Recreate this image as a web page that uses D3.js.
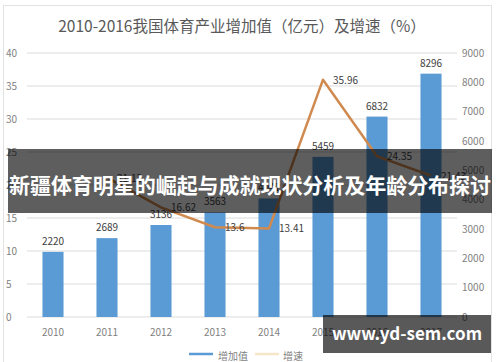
<!DOCTYPE html>
<html>
<head>
<meta charset="utf-8">
<script src="https://cdn.jsdelivr.net/npm/d3@7"></script>
<style>
  body { margin: 0; background: #fff; }
  text { font-family: "Noto Sans CJK SC", "Noto Sans", sans-serif; }
</style>
</head>
<body>
<div id="chart"></div>
<script>
var years = ['2010', '2011', '2012', '2013', '2014', '2015', '2016', '2017']
var addedValue = [2220, 2689, 3136, 3563, 4041, 5459, 6832, 8296]
var growth = [null, 21.13, 16.62, 13.6, 13.41, 35.96, 24.35, 21.43]
var leftTicks = [0, 5, 10, 15, 20, 25, 30, 35, 40]
var rightTicks = [0, 1000, 2000, 3000, 4000, 5000, 6000, 7000, 8000, 9000]
var legendNames = ['增加值', '增速']

var svg = d3.select('#chart')
  .append('svg')
  .attr('width', 500)
  .attr('height', 362)

// chart frame
svg.append('rect')
  .attr('x', 3.5).attr('y', 5.5)
  .attr('width', 488).attr('height', 370)
  .attr('fill', '#fff')
  .attr('stroke', '#e3e3e3')

svg.append('text')
  .attr('x', 242).attr('y', 32)
  .attr('text-anchor', 'middle')
  .attr('font-size', 15.5)
  .attr('fill', '#595959')
  .text('2010-2016我国体育产业增加值（亿元）及增速（%）')

var x = d3.scaleBand().domain(years).range([26, 458]).paddingInner(0.61).paddingOuter(0.305)
var yL = d3.scaleLinear().domain([0, 40]).range([317, 53])
var yR = d3.scaleLinear().domain([0, 9000]).range([317, 53])
var cx = function(d) { return x(d) + x.bandwidth() / 2 }

// gridlines
svg.append('g')
  .selectAll('line')
  .data(leftTicks)
  .enter().append('line')
  .attr('x1', 27).attr('x2', 457)
  .attr('y1', function(d) { return yL(d) })
  .attr('y2', function(d) { return yL(d) })
  .attr('stroke', '#dcdcdc')
  .attr('stroke-width', 1.2)

svg.append('g')
  .selectAll('text')
  .data(leftTicks)
  .enter().append('text')
  .attr('x', 6)
  .attr('y', function(d) { return yL(d) + 3.5 })
  .attr('font-size', 10)
  .attr('fill', '#7f7f7f')
  .text(function(d) { return d })

svg.append('g')
  .selectAll('text')
  .data(rightTicks)
  .enter().append('text')
  .attr('x', 462)
  .attr('y', function(d) { return yR(d) + 3.5 })
  .attr('font-size', 10)
  .attr('fill', '#7f7f7f')
  .text(function(d) { return d })

// bars
svg.append('g')
  .selectAll('rect')
  .data(addedValue)
  .enter().append('rect')
  .attr('x', function(d, i) { return x(years[i]) })
  .attr('y', function(d) { return yR(d) })
  .attr('width', x.bandwidth())
  .attr('height', function(d) { return yR(0) - yR(d) })
  .attr('fill', '#5b9bd5')

svg.append('g')
  .selectAll('text')
  .data(addedValue)
  .enter().append('text')
  .attr('x', function(d, i) { return cx(years[i]) })
  .attr('y', function(d) { return yR(d) - 7 })
  .attr('text-anchor', 'middle')
  .attr('font-size', 10)
  .attr('fill', '#404040')
  .text(function(d) { return d })

// growth line
var line = d3.line()
  .defined(function(d) { return d != null })
  .x(function(d, i) { return cx(years[i]) })
  .y(function(d) { return yL(d) })

svg.append('path')
  .datum(growth)
  .attr('d', line)
  .attr('fill', 'none')
  .attr('stroke', '#d08a4f')
  .attr('stroke-width', 2.5)
  .attr('stroke-linejoin', 'round')

svg.append('g')
  .selectAll('text')
  .data(growth)
  .enter().filter(function(d) { return d != null }).append('text')
  .attr('x', function(d) { return cx(years[growth.indexOf(d)]) + 10 })
  .attr('y', function(d) { return yL(d) + 4 })
  .attr('font-size', 10)
  .attr('fill', '#404040')
  .text(function(d) { return d })

// x labels
svg.append('g')
  .selectAll('text')
  .data(years)
  .enter().append('text')
  .attr('x', function(d) { return cx(d) })
  .attr('y', 336)
  .attr('text-anchor', 'middle')
  .attr('font-size', 10)
  .attr('fill', '#7f7f7f')
  .text(function(d) { return d })

// legend
var lg = svg.append('g')
lg.append('line').attr('x1', 189).attr('x2', 213).attr('y1', 354).attr('y2', 354)
  .attr('stroke', '#5b9bd5').attr('stroke-width', 2.5)
lg.append('text').attr('x', 218).attr('y', 360).attr('font-size', 10).attr('fill', '#7f7f7f').text(legendNames[0])
lg.append('line').attr('x1', 255).attr('x2', 279).attr('y1', 354).attr('y2', 354)
  .attr('stroke', '#f5e6c8').attr('stroke-width', 2.5)
lg.append('text').attr('x', 283).attr('y', 360).attr('font-size', 10).attr('fill', '#7f7f7f').text(legendNames[1])

// overlay banner
svg.append('rect')
  .attr('x', 8).attr('y', 149)
  .attr('width', 484).attr('height', 64)
  .attr('fill', 'rgba(0,0,0,0.63)')
svg.append('text')
  .attr('x', 250).attr('y', 193)
  .attr('text-anchor', 'middle')
  .attr('font-size', 21)
  .attr('font-weight', 'bold')
  .attr('fill', '#fff')
  .attr('textLength', 482)
  .text('新疆体育明星的崛起与成就现状分析及年龄分布探讨')

// watermark
svg.append('rect')
  .attr('x', 323).attr('y', 315)
  .attr('width', 168).attr('height', 38)
  .attr('fill', 'rgba(0,0,0,0.65)')
svg.append('text')
  .attr('x', 407).attr('y', 340)
  .attr('text-anchor', 'middle')
  .attr('font-size', 17)
  .attr('font-weight', 'bold')
  .attr('fill', '#fff')
  .text('www.yd-sem.com')
</script>
</body>
</html>
